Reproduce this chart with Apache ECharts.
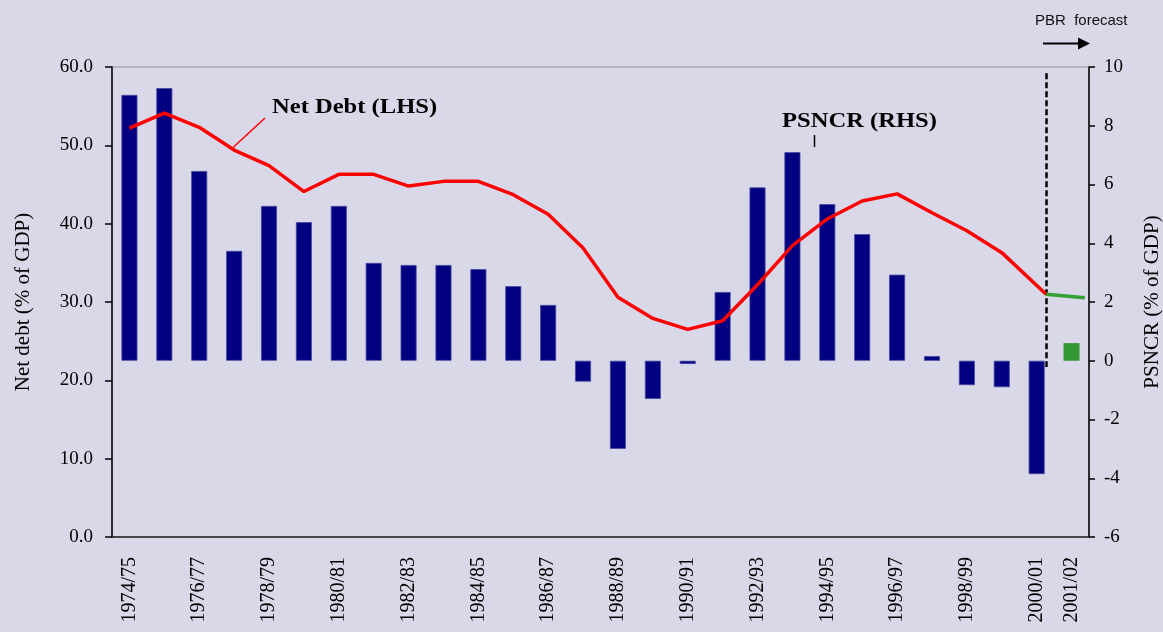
<!DOCTYPE html>
<html>
<head>
<meta charset="utf-8">
<title>Net debt and PSNCR</title>
<script src="https://cdn.jsdelivr.net/npm/echarts@6/dist/echarts.min.js"></script>
<style>
  html, body { margin: 0; padding: 0; background: #d8d8e8; }
  #chart { width: 1163px; height: 632px; }
</style>
</head>
<body>
<div id="chart"></div>
<script>
// financial years on the category axis
const years = ['1974/75', '1975/76', '1976/77', '1977/78', '1978/79', '1979/80', '1980/81',
  '1981/82', '1982/83', '1983/84', '1984/85', '1985/86', '1986/87', '1987/88', '1988/89',
  '1989/90', '1990/91', '1991/92', '1992/93', '1993/94', '1994/95', '1995/96', '1996/97',
  '1997/98', '1998/99', '1999/00', '2000/01', '2001/02']

// PSNCR, % of GDP (RHS)
const psncr = [9.05, 9.28, 6.46, 3.74, 5.27, 4.72, 5.27, 3.33, 3.26, 3.26, 3.12, 2.54, 1.90,
  -0.71, -3.0, -1.30, -0.11, 2.34, 5.90, 7.10, 5.33, 4.31, 2.93, 0.16, -0.83, -0.90, -3.86, null]
// PBR forecast bar for 2001/02
const psncrForecast = [null, null, null, null, null, null, null, null, null, null, null, null, null,
  null, null, null, null, null, null, null, null, null, null, null, null, null, null, 0.6]

// net debt, % of GDP (LHS)
const netDebt = [52.2, 54.1, 52.3, 49.4, 47.4, 44.1, 46.3, 46.3, 44.8, 45.4, 45.4, 43.7, 41.2,
  36.9, 30.6, 27.9, 26.5, 27.6, 32.2, 37.2, 40.6, 42.9, 43.8, 41.4, 39.1, 36.3, 31.0]
const netDebtForecast = [31.0, 30.55]

// where the forecast period starts / ends (in category units)
const forecastStart = 26.27
const forecastEnd = 27.38

const leftTicks = { min: 0, max: 60, interval: 10 }
const rightTicks = { min: -6, max: 10, interval: 2 }

const serif = '"Liberation Serif", "Times New Roman", serif'

const debtPoints = netDebt.map((v, i) => [i === netDebt.length - 1 ? forecastStart : i, v])
const forecastPoints = [[forecastStart, netDebtForecast[0]], [forecastEnd, netDebtForecast[1]]]

const chart = echarts.init(document.getElementById('chart'))

chart.setOption({
  backgroundColor: '#d8d8e8',
  animation: false,
  grid: {
    left: 112,
    right: 74,
    top: 67,
    bottom: 95,
    outerBoundsMode: 'none',
    containLabel: false,
    show: true,
    backgroundColor: 'transparent',
    borderColor: '#b4b4bc',
    borderWidth: 2
  },
  xAxis: [{
    type: 'category',
    data: years,
    axisLine: { onZero: false, lineStyle: { color: '#222', width: 1.5 } },
    axisTick: { interval: 0, length: 7, lineStyle: { color: '#222', width: 1.5 } },
    axisLabel: {
      interval: function (i) { return i % 2 === 0 || i === years.length - 1 },
      rotate: 90,
      margin: 20,
      color: '#000',
      fontFamily: serif,
      fontSize: 20
    },
    splitLine: { show: false }
  }, {
    // hidden helper axis so the debt lines can start/stop between categories
    type: 'value',
    min: -0.5,
    max: years.length - 0.5,
    show: false
  }],
  yAxis: [{
    type: 'value',
    min: leftTicks.min,
    max: leftTicks.max,
    interval: leftTicks.interval,
    name: 'Net debt (% of GDP)',
    nameLocation: 'middle',
    nameGap: 78,
    nameTextStyle: { color: '#000', fontFamily: serif, fontSize: 21 },
    axisLine: { show: true, onZero: false, lineStyle: { color: '#000', width: 1.5 } },
    axisTick: { show: true, length: 7, lineStyle: { color: '#000', width: 1.5 } },
    axisLabel: {
      margin: 19,
      color: '#000',
      fontFamily: serif,
      fontSize: 19,
      formatter: v => v.toFixed(1)
    },
    splitLine: { show: false }
  }, {
    type: 'value',
    position: 'right',
    min: rightTicks.min,
    max: rightTicks.max,
    interval: rightTicks.interval,
    name: 'PSNCR (% of GDP)',
    nameLocation: 'middle',
    nameRotate: 90,
    nameGap: 53,
    nameTextStyle: { color: '#000', fontFamily: serif, fontSize: 21 },
    axisLine: { show: true, onZero: false, lineStyle: { color: '#000', width: 1.5 } },
    axisTick: { show: true, length: 6, lineStyle: { color: '#000', width: 1.5 } },
    axisLabel: {
      margin: 15,
      color: '#000',
      fontFamily: serif,
      fontSize: 19
    },
    splitLine: { show: false }
  }],
  series: [
    {
      name: 'PSNCR (RHS)',
      type: 'bar',
      xAxisIndex: 0,
      yAxisIndex: 1,
      data: psncr,
      barWidth: 16,
      barGap: '-100%',
      itemStyle: { color: '#000080', borderColor: '#4848a0', borderWidth: 0.8 }
    },
    {
      name: 'PSNCR forecast',
      type: 'bar',
      xAxisIndex: 0,
      yAxisIndex: 1,
      data: psncrForecast,
      barWidth: 16,
      itemStyle: { color: '#339933' }
    },
    {
      name: 'Net Debt (LHS)',
      type: 'line',
      xAxisIndex: 1,
      yAxisIndex: 0,
      data: debtPoints,
      showSymbol: false,
      lineStyle: { color: '#ff0000', width: 3.5 },
      z: 5
    },
    {
      name: 'Net Debt forecast',
      type: 'line',
      xAxisIndex: 1,
      yAxisIndex: 0,
      data: forecastPoints,
      showSymbol: false,
      lineStyle: { color: '#33a033', width: 3.5 },
      z: 5,
      // forecast divider
      markLine: {
        silent: true,
        symbol: 'none',
        label: { show: false },
        lineStyle: { color: '#000', width: 2.5, type: [6, 3] },
        data: [[{ coord: [forecastStart, 59.2] }, { coord: [forecastStart, 21.7] }]]
      }
    }
  ],
  graphic: [
    {
      type: 'text', x: 272, y: 108, scaleX: 1.17,
      style: { text: 'Net Debt (LHS)', font: 'bold 21px ' + serif, fill: '#000', align: 'left', verticalAlign: 'middle' }
    },
    {
      type: 'line',
      shape: { x1: 265, y1: 118, x2: 233, y2: 147.5 },
      style: { stroke: '#ff0000', lineWidth: 1.5 }
    },
    {
      type: 'text', x: 782, y: 122, scaleX: 1.17,
      style: { text: 'PSNCR (RHS)', font: 'bold 21px ' + serif, fill: '#000', align: 'left', verticalAlign: 'middle' }
    },
    {
      type: 'line',
      shape: { x1: 814.5, y1: 135, x2: 814.5, y2: 147 },
      style: { stroke: '#000', lineWidth: 1.5 }
    },
    {
      type: 'text', x: 1035, y: 21,
      style: { text: 'PBR  forecast', font: '15px "Liberation Sans", Arial, sans-serif', fill: '#111', align: 'left', verticalAlign: 'middle' }
    },
    {
      type: 'line',
      shape: { x1: 1043, y1: 43.5, x2: 1080, y2: 43.5 },
      style: { stroke: '#000', lineWidth: 2 }
    },
    {
      type: 'polygon',
      shape: { points: [[1078, 37.5], [1090, 43.5], [1078, 49.5]] },
      style: { fill: '#000' }
    }
  ]
})
</script>
</body>
</html>
